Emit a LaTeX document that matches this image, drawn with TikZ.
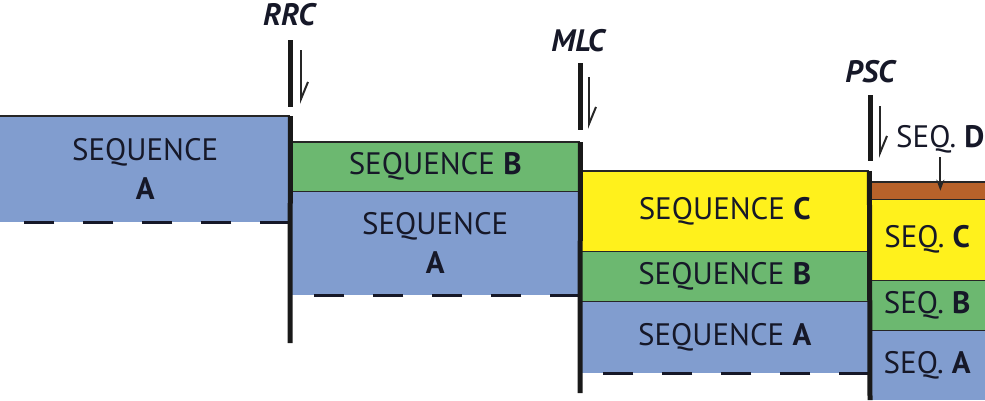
\documentclass[tikz,border=0pt]{standalone}
\usepackage{fontspec}
\setmainfont{PT Sans}
\usetikzlibrary{arrows.meta}

\definecolor{seqA}{RGB}{129,157,207}
\definecolor{seqB}{RGB}{108,184,112}
\definecolor{seqC}{RGB}{255,241,28}
\definecolor{seqD}{RGB}{184,98,42}
\definecolor{ink}{RGB}{22,24,40}

\tikzstyle{layer}=[rectangle, anchor=north west, inner sep=0pt, align=center, text=ink, font=\fontsize{31}{39}\selectfont]
\tikzstyle{boundary}=[line width=1.8pt, black!85]
\tikzstyle{fault}=[line width=5pt, black!90]
\tikzstyle{base}=[line width=3pt, ink, dash pattern=on 30pt off 29pt]
\tikzstyle{slip}=[line width=2pt, black!85, -{Straight Barb[left,length=17pt,width=14pt]}]
\tikzstyle{pointer}=[line width=2pt, black!85, -{Stealth[length=11pt,width=8pt]}]
\tikzstyle{faultname}=[font=\fontsize{31}{33}\selectfont\bfseries\itshape, text=ink]

\begin{document}
\begin{tikzpicture}[x=1pt, y=-1pt]
\useasboundingbox (0,0) rectangle (985,400);
%The layers, block by block from left to right
\foreach \name/\x/\y/\w/\h/\col/\txt in {A1/0/116/290/106/seqA/{SEQUENCE\\\textbf{A}},
	B2/290/142/290/49/seqB/{SEQUENCE \textbf{B}},		A2/290/191/290/104/seqA/{SEQUENCE\\\textbf{A}},
	C3/580/171/289/80/seqC/{SEQUENCE \textbf{C}},		B3/580/251/289/50/seqB/{SEQUENCE \textbf{B}},
	A3/580/301/289/72/seqA/{SEQUENCE \textbf{A}},
	D4/869/182/116/17/seqD/{},		C4/869/199/116/81/seqC/{SEQ. \textbf{C}},
	B4/869/280/116/50/seqB/{SEQ. \textbf{B}},		A4/869/330/116/70/seqA/{SEQ. \textbf{A}}}
\node[layer, fill=\col, minimum width=\w pt, minimum height=\h pt] (\name) at (\x,\y) {\txt};
%Tops of the blocks and the contacts between layers
\foreach \name in {A1, B2, C3, D4}
\draw[boundary] (\name.north west) -- (\name.north east);
\foreach \name in {B2, C3, B3, D4, C4, B4}
\draw[boundary] (\name.south west) -- (\name.south east);
%Dashed bases
\foreach \name in {A1, A2, A3}
\draw[base] (\name.south east) -- (\name.south west);
%Faults
\node[faultname] (RRC) at (289,15) {RRC};
\node[faultname] (MLC) at (578,41) {MLC};
\node[faultname] (PSC) at (870,72) {PSC};
\coordinate (rrcTop) at (290,40);
\coordinate (mlcTop) at (580,63);
\coordinate (pscTop) at (870,95);
\draw[fault] (rrcTop) -- ++(0,67);
\draw[fault] (mlcTop) -- ++(0,67);
\draw[fault] (pscTop) -- ++(0,66);
\draw[fault] (A1.north east) -- (290,343);
\draw[fault] (B2.north east) -- (580,393);
\draw[fault] (C3.north east) -- (870,400);
%Sense of slip
\draw[slip] (301,50) -- (301,104);
\draw[slip] (589,77) -- (589,129);
\draw[slip] (880,106) -- (880,158);
%Thin sequence D
\node[layer, anchor=west] (Dlabel) at (896,139) {SEQ. \textbf{D}};
\draw[pointer] ([yshift=-4pt]Dlabel.south) -- (Dlabel.south |- D4.center);
\end{tikzpicture}
\end{document}
